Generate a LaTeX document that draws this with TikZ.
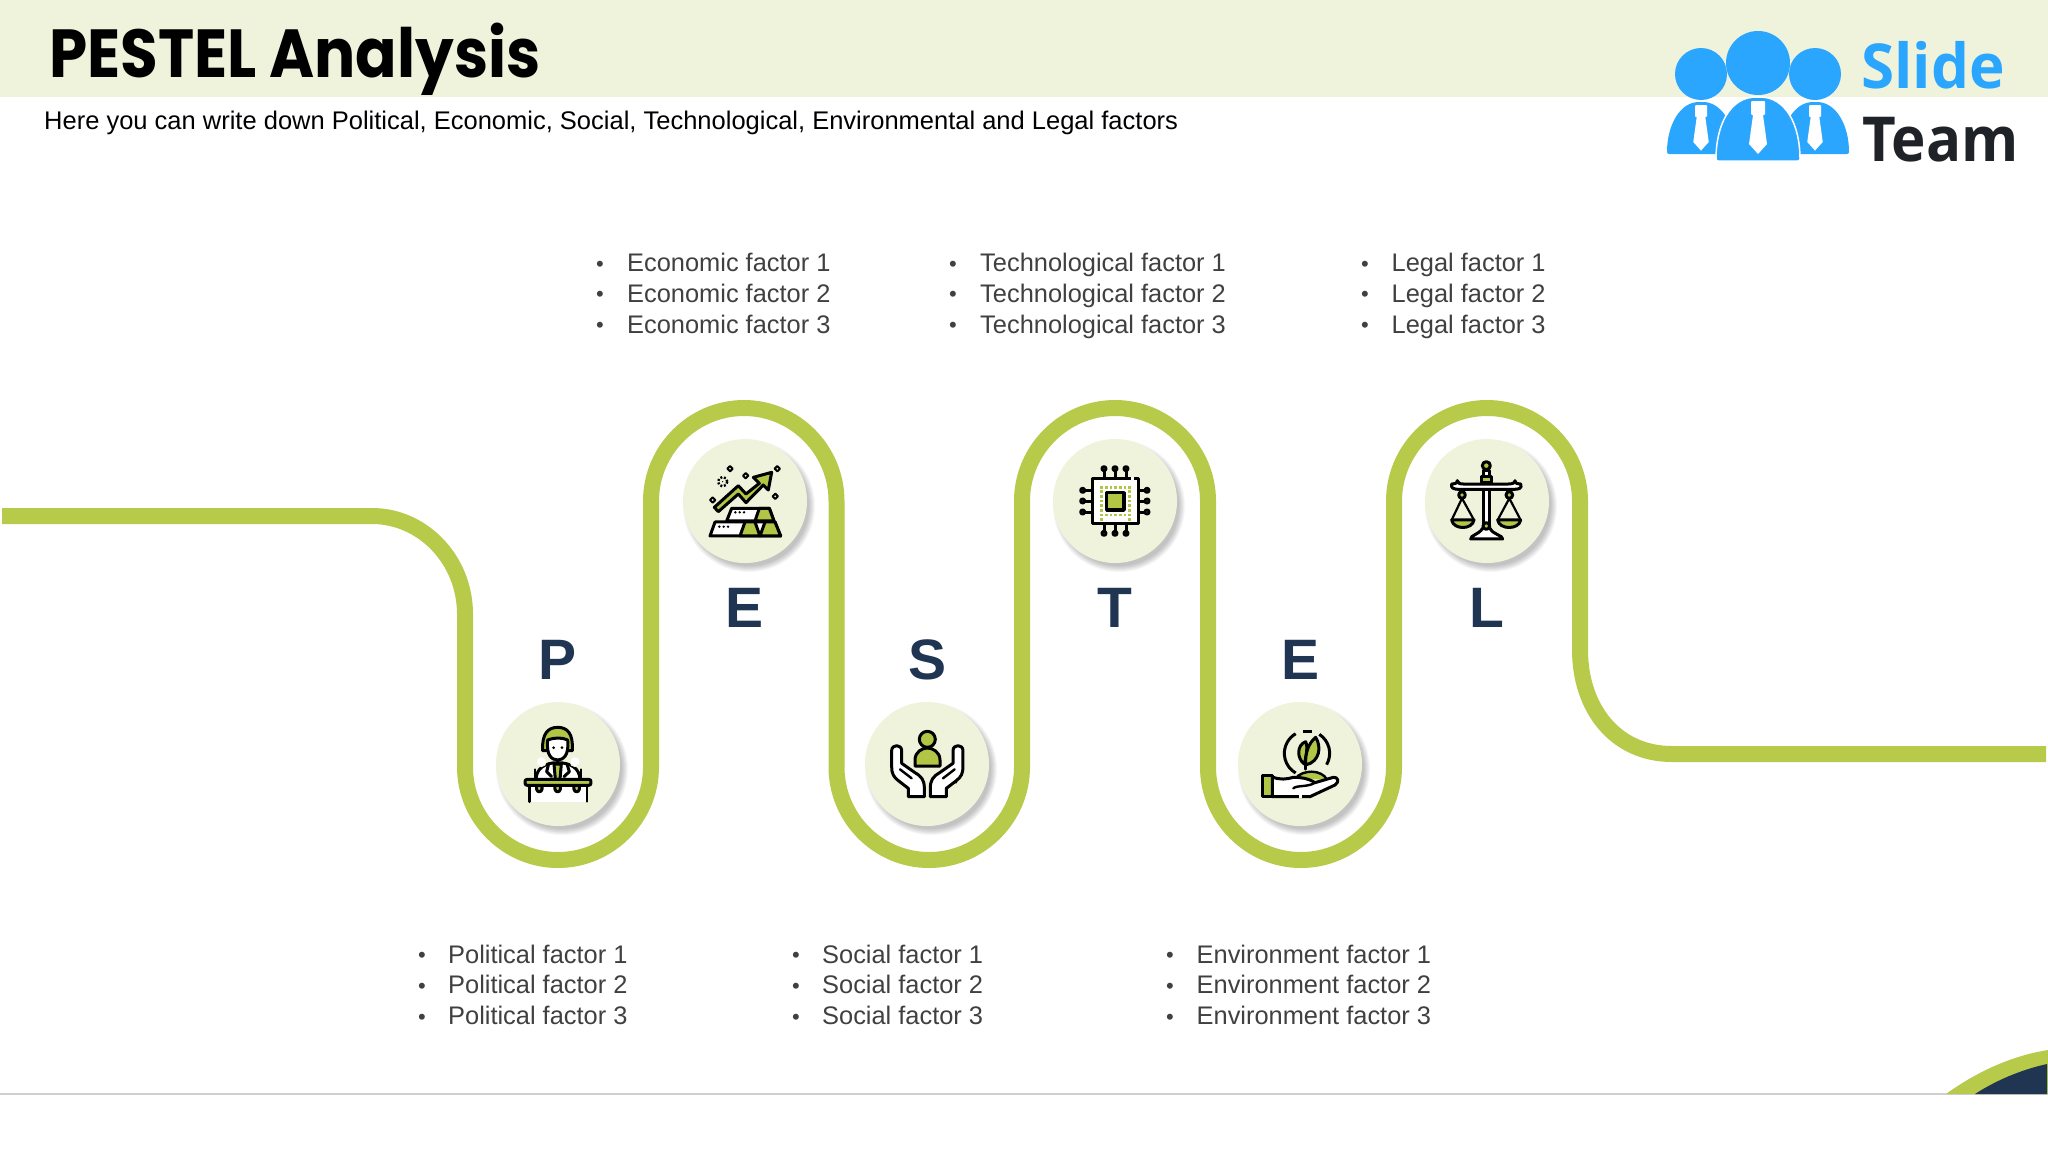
\documentclass[tikz,border=0pt]{standalone}
\usepackage{fontspec}
\setmainfont{Liberation Sans}
\newfontfamily\titlefont{Poppins}
\newfontfamily\logofont{Open Sans}
\definecolor{band}{HTML}{F0F3DC}
\definecolor{track}{HTML}{B7CA4A}
\definecolor{leafg}{HTML}{B2C545}
\definecolor{navy}{HTML}{1F3552}
\definecolor{listgray}{HTML}{404040}
\definecolor{logoblue}{HTML}{2BA6FF}
\definecolor{logodark}{HTML}{1F2328}
\definecolor{rulegray}{HTML}{D0D0D0}
\tikzset{
  trackline/.style={draw=track,line width=16pt},
  letterlbl/.style={text=navy,font=\bfseries\fontsize{57}{57}\selectfont,inner sep=0pt},
  listtxt/.style={text=listgray,font=\fontsize{25.4}{30}\selectfont,inner sep=0pt,anchor=base west},
  listdot/.style={text=listgray,font=\fontsize{22}{22}\selectfont,inner sep=0pt,anchor=base},
  ic/.style={draw=black,line width=3pt,line join=round,line cap=round},
  icg/.style={ic,fill=leafg},
  icw/.style={ic,fill=white},
  blue/.style={fill=logoblue,draw=none},
}
\newcommand{\badge}[3]{%
  \foreach \r in {66,65,64,63,62,61,60}{\fill[black,opacity=0.035] (#2+4,#3+5) circle[radius=\r];}
  \node[circle,fill=band,minimum size=124pt,inner sep=0pt] (#1) at (#2,#3) {};
}
\newcommand{\factorlist}[4]{% bullet x, text x, first baseline, label
  \foreach \n in {1,2,3}{
    \node[listdot] at ({#1},{#3+30.8*(\n-1)-0.5}) {•};
    \node[listtxt] at ({#2},{#3+30.8*(\n-1)}) {#4 \n};
  }
}
\newcommand{\sparkle}[2]{\draw[ic,line width=2pt] (#1,#2-8)--(#1+8,#2)--(#1,#2+8)--(#1-8,#2)--cycle;}
\begin{document}
\begin{tikzpicture}[x=1pt,y=-1pt]
\useasboundingbox (0,0) rectangle (2048,1152);
\fill[white] (0,0) rectangle (2048,1152);
\fill[band] (0,0) rectangle (2048,97);
% bottom rule and corner
\draw[rulegray,line width=1.3pt] (0,1094) -- (2048,1094);
\fill[track] (1946,1094) .. controls (1975,1073) and (2010,1056) .. (2048,1050) -- (2048,1094) -- cycle;
\fill[navy] (1975,1094) .. controls (1995,1081) and (2020,1070) .. (2047,1064) -- (2047,1094) -- cycle;
% title
\node[anchor=base west,inner sep=0pt] (title) at (49,77) {\titlefont\bfseries\fontsize{68}{68}\selectfont\scalebox{0.9}[1]{PESTEL Analysis}};
\node[anchor=base west,inner sep=0pt] (subtitle) at (44,129.5) {\fontsize{25.5}{30}\selectfont Here you can write down Political, Economic, Social, Technological, Environmental and Legal factors};
% logo
\fill[blue] (1701,74) circle[radius=26];
\fill[blue] (1815,74) circle[radius=26];
\fill[blue] (1758,63) circle[radius=32];
\fill[blue,rounded corners=2pt] (1667,154) .. controls (1667,125) and (1680,102) .. (1701,102) .. controls (1722,102) and (1735,125) .. (1735,154) -- cycle;
\fill[blue,rounded corners=2pt] (1849,154) .. controls (1849,125) and (1836,102) .. (1815,102) .. controls (1794,102) and (1781,125) .. (1781,154) -- cycle;
\filldraw[draw=white,line width=1.5pt,fill=logoblue,rounded corners=2pt] (1716,161) .. controls (1716,125) and (1730,97) .. (1758,97) .. controls (1786,97) and (1800,125) .. (1800,161) -- cycle;
\foreach \tx/\ty/\ts in {1758/101/1,1701/105/0.86,1815/105/0.86}{
  \begin{scope}[shift={(\tx,\ty)},scale=\ts]
    \fill[white,rounded corners=1pt] (-7,0) rectangle (7,14);
    \fill[white] (-5,14) -- (5,14) -- (9,43) -- (0,53) -- (-9,43) -- cycle;
  \end{scope}
}
\node[anchor=base west,inner sep=0pt,text=logoblue] (slide) at (1861,88) {\logofont\bfseries\fontsize{62}{62}\selectfont\scalebox{0.97}[1]{Slide}};
\node[anchor=base west,inner sep=0pt,text=logodark] (team) at (1862,161) {\logofont\bfseries\fontsize{62}{62}\selectfont\scalebox{0.94}[1]{Team}};
% track
\draw[trackline] (2,516) -- (372,516) .. controls (423,516) and (465,560) .. (465,614) -- (465,767)
  .. controls (465,818) and (507,860) .. (558,860) .. controls (609,860) and (651,818) .. (651,767) -- (651,501)
  .. controls (651,450) and (693,408) .. (744,408) .. controls (795,408) and (836.5,450) .. (836.5,501) -- (836.5,767)
  .. controls (836.5,818) and (878,860) .. (929,860) .. controls (980,860) and (1022,818) .. (1022,767) -- (1022,501)
  .. controls (1022,450) and (1064,408) .. (1115,408) .. controls (1166,408) and (1208,450) .. (1208,501) -- (1208,767)
  .. controls (1208,818) and (1250,860) .. (1301,860) .. controls (1352,860) and (1394,818) .. (1394,767) -- (1394,501)
  .. controls (1394,450) and (1436,408) .. (1487,408) .. controls (1538,408) and (1580,450) .. (1580,501) -- (1580,650)
  .. controls (1580,708) and (1615,754) .. (1672,754) -- (2046,754);
% badges
\badge{bP}{558}{764}
\badge{bE}{745}{501}
\badge{bS}{927}{764}
\badge{bT}{1115}{501}
\badge{bEn}{1300}{764}
\badge{bL}{1487}{501}
% letters
\node[letterlbl] (lP) at (558,660) {P};
\node[letterlbl] (lE) at (745,608) {E};
\node[letterlbl] (lS) at (927,660) {S};
\node[letterlbl] (lT) at (1115,608) {T};
\node[letterlbl] (lEn) at (1300,660) {E};
\node[letterlbl] (lL) at (1487,608) {L};
% lists
\factorlist{600}{627}{271.5}{Economic factor}
\factorlist{953}{980}{271.5}{Technological factor}
\factorlist{1365}{1391.5}{271.5}{Legal factor}
\factorlist{422}{448}{963}{Political factor}
\factorlist{796}{822}{963}{Social factor}
\factorlist{1170}{1196.5}{963}{Environment factor}
% icon P
\begin{scope}[shift={(480,680)},x=0.3333pt,y=-0.3333pt]
  \fill[white] (150,316) rectangle (320,365);
  \draw[icw] (168,300) .. controls (168,265) and (195,248) .. (233,248) .. controls (272,248) and (300,265) .. (300,300);
  \draw[icg] (222,252) -- (244,252) -- (240,298) -- (226,298) -- cycle;
  \draw[icw] (205,255) -- (200,275) -- (215,290);
  \draw[icw] (262,255) -- (268,275) -- (252,290);
  \draw[icg] (188,212) .. controls (185,160) and (205,142) .. (233,142) .. controls (262,142) and (280,160) .. (277,212) -- cycle;
  \draw[icw] (203,180) .. controls (225,172) and (245,172) .. (263,180) .. controls (268,225) and (250,240) .. (233,240) .. controls (215,240) and (198,225) .. (203,180) -- cycle;
  \fill[black] (221,203) circle[radius=4.5] (246,203) circle[radius=4.5];
  \filldraw[fill=white,draw=band,line width=0.8pt] (184,245) circle[radius=15] (285,245) circle[radius=15];
  \draw[ic,line width=2pt] (165,295) -- (165,268);
  \draw[ic,line width=2pt] (303,295) -- (303,268);
  \draw[ic] (148,316) -- (148,365);
  \draw[ic,line width=2pt] (320,316) -- (320,365);
  \draw[icg] (170,316) -- (170,328) .. controls (172,338) and (184,338) .. (186,328) -- (186,316);
  \draw[icg] (225,316) -- (225,328) .. controls (227,338) and (239,338) .. (241,328) -- (241,316);
  \draw[icg] (282,316) -- (282,328) .. controls (284,338) and (296,338) .. (298,328) -- (298,316);
  \draw[icg,rounded corners=2.2pt] (135,298) rectangle (333,316);
\end{scope}
% icon E
\begin{scope}[shift={(670,420)},x=0.3333pt,y=-0.3333pt]
  \draw[icg] (133,262) -- (205,197) -- (228,222) -- (268,190) -- (250,172) -- (305,157) -- (295,210) -- (280,195) -- (228,248) -- (205,222) -- (145,275) -- cycle;
  \sparkle{180}{146}
  \sparkle{227}{167}
  \sparkle{322}{146}
  \sparkle{316}{229}
  \sparkle{128}{240}
  \draw[black,line width=2.4pt,dash pattern=on 2pt off 1.8pt] (158,185) circle[radius=14];
  \fill[black] (158,185) circle[radius=2];
  \draw[icw] (170,303) -- (185,265) -- (298,265) -- (312,303) -- cycle;
  \draw[icg] (255,303) -- (268,265) -- (298,265) -- (312,303) -- cycle;
  \draw[icw] (120,348) -- (135,306) -- (315,306) -- (332,348) -- cycle;
  \draw[icg] (210,348) -- (225,306) -- (255,306) -- (270,348) -- cycle;
  \draw[icg] (270,348) -- (285,306) -- (315,306) -- (332,348) -- cycle;
  \fill[black] (196,277) circle[radius=4] (209,277) circle[radius=4] (222,277) circle[radius=4];
  \fill[black] (148,320) circle[radius=4] (161,320) circle[radius=4] (174,320) circle[radius=4];
\end{scope}
% icon S
\begin{scope}[shift={(845,680)},x=0.3333pt,y=-0.3333pt]
  \draw[icg] (247,178) circle[radius=24];
  \draw[icg] (210,258) -- (210,240) .. controls (210,215) and (232,204) .. (247,204) .. controls (262,204) and (285,215) .. (285,240) -- (285,258) -- cycle;
  \foreach \s/\o in {1/0,-1/494}{
    \begin{scope}[shift={(\o,0)},xscale=\s]
      \draw[icw] (190,350) -- (190,325) -- (160,302) .. controls (145,290) and (140,280) .. (140,260) -- (140,212)
        .. controls (140,192) and (170,192) .. (170,212) -- (170,250) -- (210,278) .. controls (230,290) and (238,300) .. (238,325) -- (238,350) -- cycle;
      \draw[ic,line width=2.4pt] (165,268) -- (200,295);
    \end{scope}
  }
  \fill[black] (333,307) circle[radius=3.5];
\end{scope}
% icon T
\begin{scope}[shift={(1030,420)},x=0.3333pt,y=-0.3333pt]
  \foreach \p in {222,255,288}{
    \draw[ic] (\p,175) -- (\p,152);
    \draw[ic] (\p,312) -- (\p,335);
    \draw[ic,fill=band] (\p,146) circle[radius=6];
    \draw[ic,fill=band] (\p,340) circle[radius=6];
  }
  \foreach \p in {211,243,276}{
    \draw[ic] (186,\p) -- (164,\p);
    \draw[ic] (325,\p) -- (346,\p);
    \draw[ic,fill=band] (158,\p) circle[radius=6];
    \draw[ic,fill=band] (351,\p) circle[radius=6];
  }
  \draw[icw,line cap=butt] (186,175) rectangle (325,312);
  \draw[white,line width=3.2pt] (304,175) -- (312,175);
  \foreach \p in {215,229,243,257,271,285,298}{
    \fill[leafg] (\p-4,199) rectangle (\p+4,207);
    \fill[leafg] (\p-4,281) rectangle (\p+4,289);
    \fill[leafg] (211,\p-4) rectangle (219,\p+4);
    \fill[leafg] (294,\p-4) rectangle (302,\p+4);
  }
  \draw[icg,line width=3.4pt] (230,218) rectangle (282,270);
\end{scope}
% icon En
\begin{scope}[shift={(1215,680)},x=0.3333pt,y=-0.3333pt]
  \draw[black,line width=3pt] (242,279) arc[start angle=120,end angle=240,radius=68];
  \draw[black,line width=3pt] (264,153) -- (290,153);
  \draw[black,line width=3pt] (313,163) arc[start angle=-57,end angle=30,radius=68];
  \draw[icg,line width=2.4pt] (240,298) .. controls (250,280) and (275,275) .. (290,275) .. controls (310,275) and (330,285) .. (335,298);
  \draw[icg] (268,252) .. controls (245,235) and (245,195) .. (272,185) .. controls (280,200) and (272,235) .. (268,252) -- cycle;
  \draw[icg] (272,255) .. controls (270,220) and (280,190) .. (302,172) .. controls (320,200) and (315,245) .. (272,255) -- cycle;
  \draw[ic,line width=2.4pt] (272,268) -- (272,250);
  \draw[icg] (141,285) rectangle (172,350);
  \draw[icw] (172,291) .. controls (195,300) and (215,298) .. (235,292) .. controls (260,292) and (280,295) .. (300,308) -- (355,292) .. controls (368,290) and (375,305) .. (360,315) -- (285,350) -- (172,350) -- cycle;
  \draw[ic,line width=2.4pt] (235,325) .. controls (245,315) and (280,322) .. (300,308);
  \draw[white,line width=3.2pt] (252,350) -- (262,350);
\end{scope}
% icon L
\begin{scope}[shift={(1400,420)},x=0.3333pt,y=-0.3333pt]
  \draw[ic,line width=2.2pt] (186,235) -- (155,300) (186,235) -- (222,300);
  \draw[ic,line width=2.2pt] (328,235) -- (293,300) (328,235) -- (362,300);
  \draw[icg] (155,300) .. controls (160,330) and (217,330) .. (222,300) -- cycle;
  \draw[icg] (293,300) .. controls (298,330) and (357,330) .. (362,300) -- cycle;
  \draw[icw] (250,207) rectangle (268,315);
  \draw[icw] (212,357) .. controls (212,345) and (235,345) .. (248,325) -- (270,325) .. controls (280,345) and (308,345) .. (308,357) -- cycle;
  \draw[icg] (259,318) circle[radius=10];
  \draw[icw] (172,182) .. controls (172,192) and (160,192) .. (155,192) .. controls (150,205) and (165,208) .. (175,208) -- (342,208) .. controls (355,208) and (368,205) .. (362,192) .. controls (357,192) and (345,192) .. (345,182) .. controls (345,190) and (335,192) .. (325,192) -- (190,192) .. controls (180,192) and (172,190) .. (172,182) -- cycle;
  \draw[icw] (251,150) rectangle (267,168);
  \draw[icg] (243,168) rectangle (275,188);
  \draw[icg] (259,137) circle[radius=12];
  \draw[icg] (186,225) circle[radius=10];
  \draw[icg] (328,225) circle[radius=10];
\end{scope}
\end{tikzpicture}
\end{document}
